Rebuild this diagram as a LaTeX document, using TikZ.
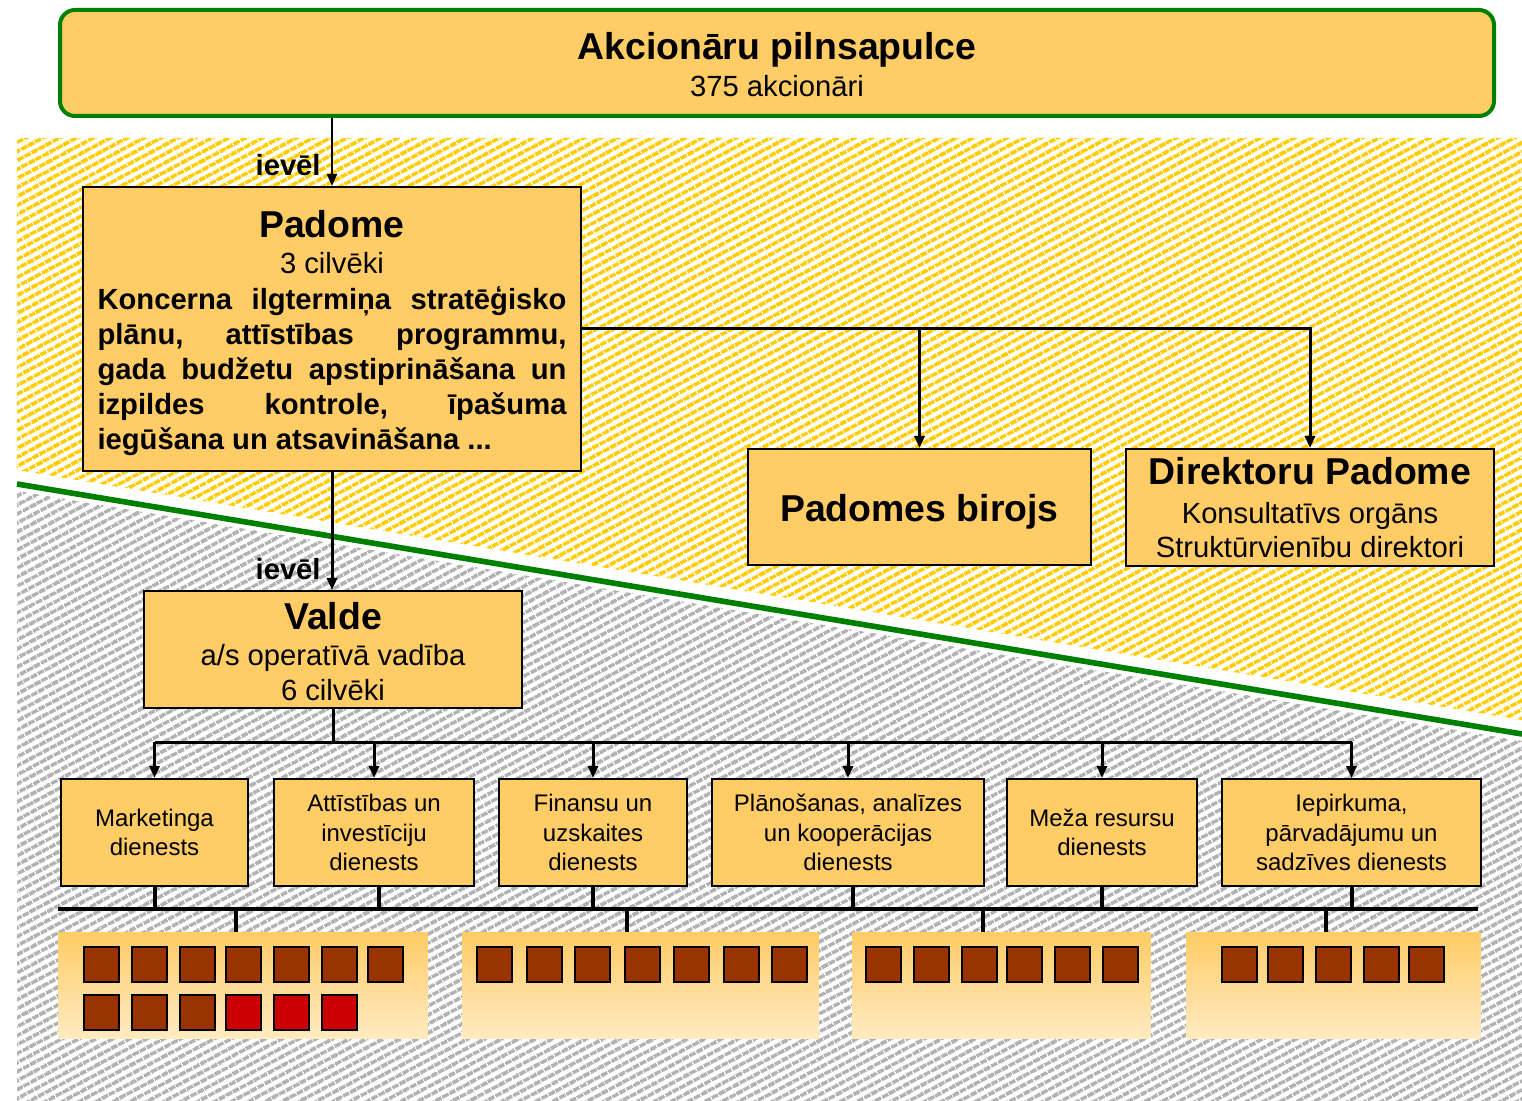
\documentclass[tikz,border=0pt]{standalone}
\usepackage{fontspec}
\setmainfont{Liberation Sans}
\usetikzlibrary{arrows.meta,patterns.meta}
\definecolor{boxfill}{HTML}{FFCC66}
\definecolor{hatchY}{HTML}{FFCC00}
\definecolor{hatchG}{HTML}{B2B2B2}
\definecolor{grn}{HTML}{008000}
\definecolor{brn}{HTML}{993300}
\definecolor{redsq}{HTML}{CC0000}
\definecolor{gradbot}{HTML}{FFEBC2}
\newcommand\bigB{\fontsize{18.7}{22}\selectfont\bfseries}
\newcommand\medR{\fontsize{14.6}{17.5}\selectfont}
\newcommand\depR{\fontsize{12}{14.75}\selectfont}
\newcommand\jline[1]{\hbox to 234.5pt{\bfseries #1}}
\begin{document}
\begin{tikzpicture}[x=0.5pt,y=-0.5pt,
  box/.style={draw=black, line width=1pt, fill=boxfill, inner sep=0pt, anchor=north west, align=center},
  dept/.style={box, font=\depR, minimum height=53.5pt},
  grp/.style={inner sep=0pt, anchor=north west, top color=boxfill, bottom color=gradbot, draw=none, minimum height=53pt},
  sqb/.style={draw=black, line width=1.2pt, fill=brn, minimum size=17.3pt, inner sep=0pt, anchor=north west},
  sqr/.style={sqb, fill=redsq},
  arr/.style={-{Triangle[length=6pt,width=5pt]}},
  lbl/.style={font=\medR\bfseries, inner sep=0pt},
  conn/.style={line width=1.5pt},
  busw/.style={line width=2pt},
  hatch/.style={pattern={Lines[angle=28,distance=4pt,line width=2.2pt]}}
]
\useasboundingbox (0,0) rectangle (1522,1101);
% background hatched zones
\fill[hatch, pattern color=hatchY]
  (17,138) -- (1522,138) -- (1522,720) -- (17,470) -- cycle;
\fill[hatch, pattern color=hatchG]
  (17,491) -- (1522,741) -- (1522,1101) -- (17,1101) -- cycle;
\draw[grn, line width=2.8pt] (17,484) -- (1522,734);

% top box
\node[box, draw=grn, line width=2pt, rounded corners=7.5pt, font=\medR,
  minimum width=717pt, minimum height=53pt] (akc) at (58,8)
  {{\bigB\rule{0pt}{15pt}Akcionāru pilnsapulce}\\[1pt]375 akcionāri};

% Padome
\node[box, font=\medR, minimum width=249pt, minimum height=142pt] (padome) at (82,186)
  {{\bigB\rule{0pt}{18pt}Padome}\\[0.5pt]3 cilvēki\\[0.5pt]
   \jline{Koncerna\hfill ilgtermiņa\hfill stratēģisko}\\
   \jline{plānu,\hfill attīstības\hfill programmu,}\\
   \jline{gada\hfill budžetu\hfill apstiprināšana\hfill un}\\
   \jline{izpildes\hfill kontrole,\hfill īpašuma}\\
   \jline{iegūšana un atsavināšana ...\hfill}};

\node[box, minimum width=171.5pt, minimum height=58pt] (birojs) at (747,448)
  {\bigB\rule{0pt}{18.5pt}Padomes birojs};
\node[box, font=\medR, minimum width=184pt, minimum height=58.5pt] (direkt) at (1125,448)
  {{\bigB Direktoru Padome}\\[2pt]Konsultatīvs orgāns\\[-0.5pt]Struktūrvienību direktori};

\node[box, font=\medR, minimum width=189pt, minimum height=58.5pt] (valde) at (143,590)
  {{\bigB\rule{0pt}{16pt}Valde}\\[0.5pt]a/s operatīvā vadība\\6 cilvēki};

% departments
\node[dept, minimum width=93.5pt] (d1) at (60,778) {Marketinga\\dienests};
\node[dept, minimum width=100pt] (d2) at (273,778) {Attīstības un\\investīciju\\dienests};
\node[dept, minimum width=94pt] (d3) at (498,778) {Finansu un\\uzskaites\\dienests};
\node[dept, minimum width=136pt] (d4) at (711,778) {Plānošanas, analīzes\\un kooperācijas\\dienests};
\node[dept, minimum width=95pt] (d5) at (1006,778) {Meža resursu\\dienests};
\node[dept, minimum width=129.5pt] (d6) at (1221,778) {Iepirkuma,\\pārvadājumu un\\sadzīves dienests};

% groups
\node[grp, minimum width=184.5pt] (g1) at (58,932) {};
\node[grp, minimum width=178pt] (g2) at (462,932) {};
\node[grp, minimum width=149pt] (g3) at (852,932) {};
\node[grp, minimum width=147pt] (g4) at (1186,932) {};

% squares
\foreach \x [count=\i] in {82,130,178,224,272,320,366}
  \node[sqb] (ga\i) at (\x+1,946) {};
\foreach \x [count=\i] in {82,130,178}
  \node[sqb] (gb\i) at (\x+1,994) {};
\foreach \x [count=\i] in {224,272,320}
  \node[sqr] (gr\i) at (\x+1,994) {};
\foreach \x [count=\i] in {475,525,573,623,672,722,770}
  \node[sqb] (gc\i) at (\x+1,946) {};
\foreach \x [count=\i] in {864,912,960,1005,1053,1101}
  \node[sqb] (gd\i) at (\x+1,946) {};
\foreach \x [count=\i] in {1220,1266,1314,1362,1407}
  \node[sqb] (ge\i) at (\x+1,946) {};

% connectors
\draw[arr, line width=1pt] (padome.north |- akc.south) -- (padome.north);
\node[lbl, anchor=east] (iev1) at (321,165) {ievēl};
\draw[arr, conn] (padome.east) -| (direkt.north);
\draw[arr, conn] (padome.east -| birojs.north) -- (birojs.north);
\draw[arr, conn] (padome.south) -- (padome.south |- valde.north);
\node[lbl, anchor=east] (iev2) at (321,569) {ievēl};

\coordinate (bus1) at (331,742);
\draw[conn] (valde.south) -- (valde.south |- bus1);
\draw[conn] (d1.north |- bus1) -- (d6.north |- bus1);
\foreach \d in {d1,d2,d3,d4,d5,d6}
  \draw[arr, conn] (\d.north |- bus1) -- (\d.north);

\coordinate (bus2l) at (58,909);
\coordinate (bus2r) at (1478,909);
\draw[busw] (bus2l) -- (bus2r);
\foreach \d in {d1,d3,d5,d6}
  \draw[busw] (\d.south) -- (\d.south |- bus2l);
\draw[busw] ([xshift=2.5pt]d2.south) -- ([xshift=2.5pt]d2.south |- bus2l);
\draw[busw] ([xshift=2.5pt]d4.south) -- ([xshift=2.5pt]d4.south |- bus2l);
\coordinate (g1in) at (236,932);
\coordinate (g2in) at (627,932);
\coordinate (g3in) at (983,932);
\coordinate (g4in) at (1326,932);
\foreach \g in {g1in,g2in,g3in,g4in}
  \draw[busw] (\g |- bus2l) -- (\g);
\end{tikzpicture}
\end{document}
